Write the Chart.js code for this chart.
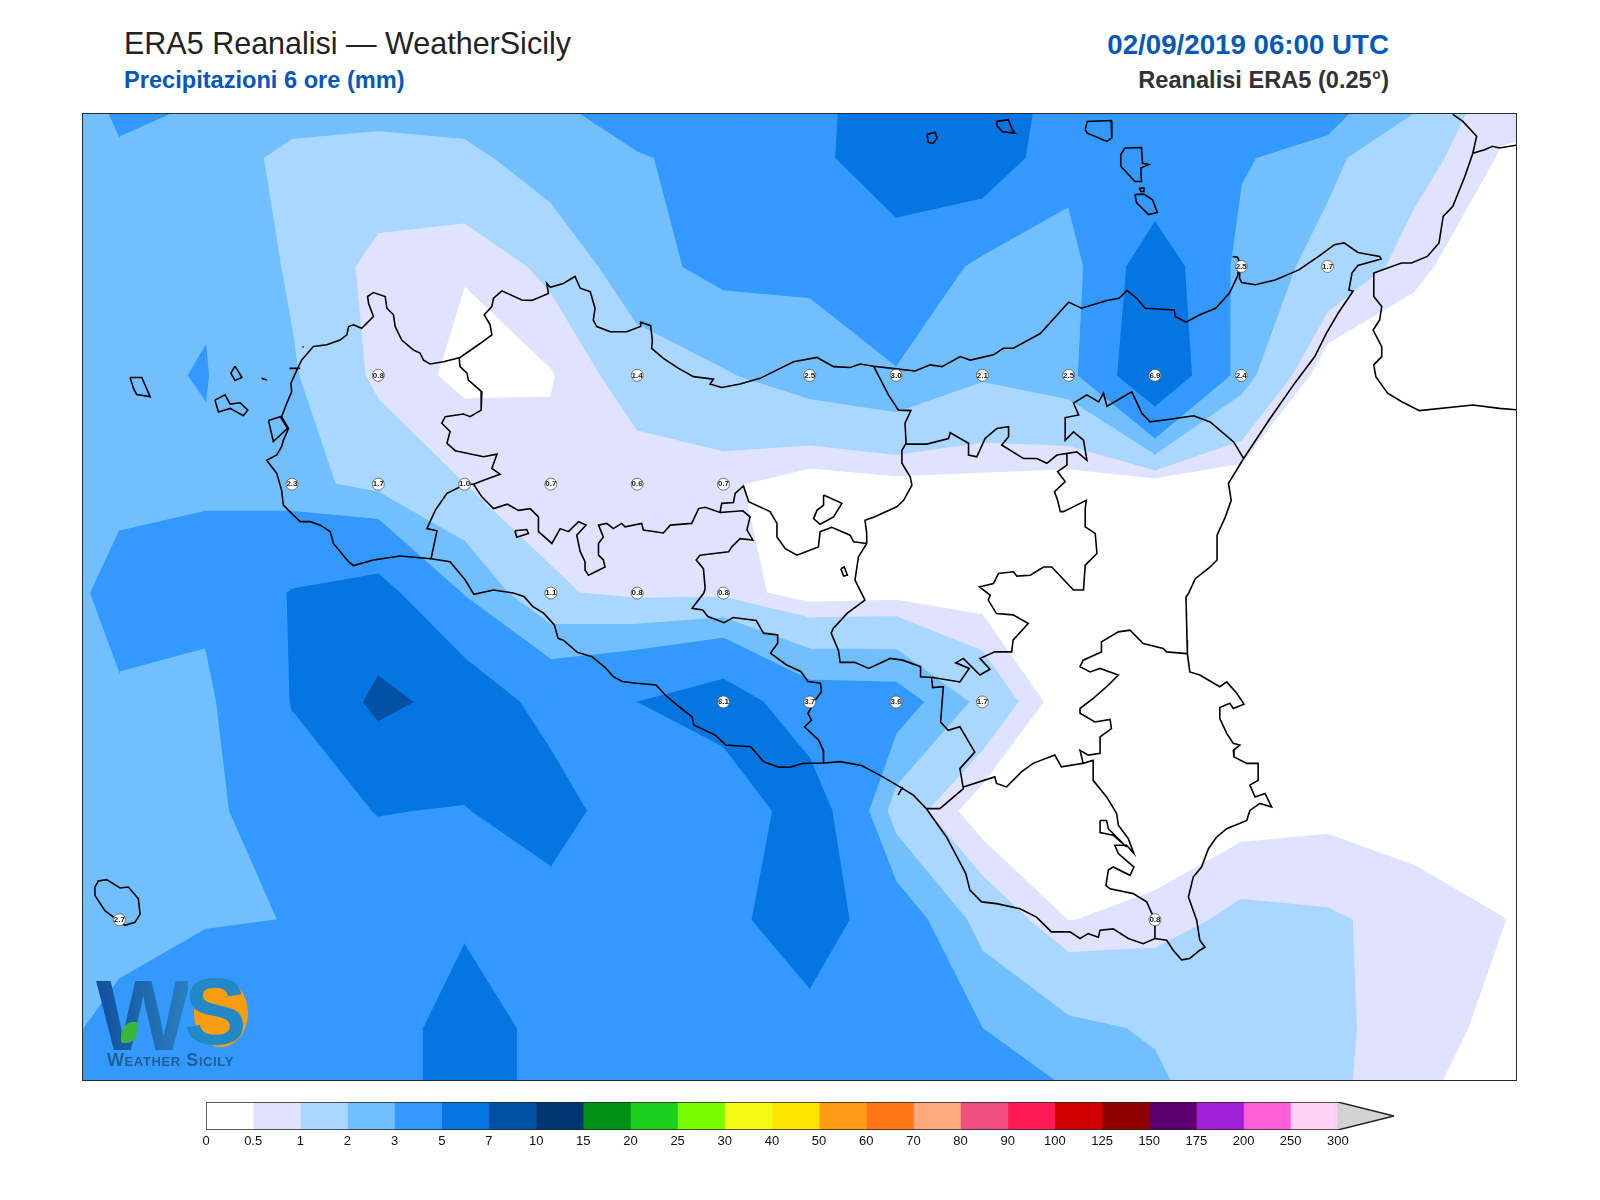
<!DOCTYPE html>
<html>
<head>
<meta charset="utf-8">
<title>ERA5 Reanalisi - WeatherSicily</title>
<script src="https://cdn.jsdelivr.net/npm/chart.js@4"></script>
<style>
  body { margin: 0; background: #fff; width: 1600px; height: 1200px; position: relative; overflow: hidden; font-family: "Liberation Sans", Arial, sans-serif; }
  .txt { position: absolute; white-space: nowrap; line-height: 1; }
  #mapChart { position: absolute; left: 83px; top: 114px; outline: 1.5px solid #2b2b30; }
  #barChart { position: absolute; left: 176px; top: 1095px; }
  #logo { position: absolute; left: 0; top: 0; pointer-events: none; }
</style>
</head>
<body>
<div class="txt" style="left:124px;top:28px;font-size:30.5px;color:#222">ERA5 Reanalisi — WeatherSicily</div>
<div class="txt" style="left:124px;top:69px;font-size:23.6px;font-weight:bold;color:#0558b8">Precipitazioni 6 ore (mm)</div>
<div class="txt" style="right:211px;top:31px;font-size:27.7px;font-weight:bold;color:#0558b8">02/09/2019 06:00 UTC</div>
<div class="txt" style="right:211px;top:69px;font-size:23.6px;font-weight:bold;color:#333">Reanalisi ERA5 (0.25°)</div>
<canvas id="mapChart" width="1433" height="966"></canvas>
<canvas id="barChart" width="1250" height="60"></canvas>
<div id="logo">
  <div style="position:absolute;left:194px;top:979px;width:54px;height:68px;border-radius:50%;background:#f99d10"></div>
  <div class="txt" style="left:96px;top:965px;font-size:100px;font-weight:bold;letter-spacing:-2px;background:linear-gradient(90deg,#124f9b,#2a7fc0);-webkit-background-clip:text;background-clip:text;color:transparent">W</div>
  <div class="txt" style="left:184px;top:965px;font-size:94px;font-weight:bold;color:#2388c6">S</div>
  <div style="position:absolute;left:121px;top:1022px;width:17px;height:21px;border-radius:70% 10% 70% 10%;background:#3db53a"></div>
  <div class="txt" style="left:107px;top:1051px;font-size:18px;font-weight:bold;font-variant:small-caps;color:#1f5f95;letter-spacing:.6px">Weather Sicily</div>
</div>
<script>
// grid of the reanalysis, 0.25 degrees
const lons = [11.75,12,12.25,12.5,12.75,13,13.25,13.5,13.75,14,14.25,14.5,14.75,15,15.25,15.5,15.75,16,16.25];
const lats = [38.75,38.5,38.25,38,37.75,37.5,37.25,37,36.75,36.5,36.25];
const precip = [
  [2.1,3.8,3.57,2.7,2.88,3.4,3.3,4.5,4.5,4.4,6,6.4,4.4,4,4,6,3,.9,.9],
  [2.4,2.8,2.3,1.85,1.71,1.7,2.58,2.9,3.4,4.74,5.6,6.4,3.57,3.1,3.16,2.2,1.3,.45,.3],
  [2.6,2.7,2.92,1.86,.68,.53,1.17,2.66,3.3,3.2,4.5,2.6,2.3,6.3,2.5,1.7,.65,0,0],
  [2.7,2.88,3.03,2.1,.8,.36,.45,1.4,1.9,2.5,2.85,2.1,2.5,6.9,2.4,0,0,0,0],
  [2.5,2.62,2.9,2.3,1.7,1,.7,.6,.6,.15,.3,.3,.17,.1,.05,0,0,0,0],
  [2,3.5,3.3,5.1,5.7,2.9,1.1,.8,.8,.2,.28,.2,.1,0,0,0,0,0,0],
  [2.6,2.8,2.7,5.05,7.4,6.4,4.2,4.98,6.1,3.7,3.6,1.7,0,0,0,0,0,0,0],
  [2.4,2.3,2.5,4.3,5.05,4.91,6,3.56,3.4,6.2,1.5,.1,0,0,.22,.34,.2,0,0],
  [2.4,2.7,2.95,3.01,4,4.7,4,4,4.5,6,3.8,1.6,.48,.68,1.18,1.08,.8,.52,.2],
  [2.64,3.25,3.5,3.5,3.9,6,4.33,4,4,4.4,4,3,2.2,1.9,1.5,1.15,.7,.38,.1],
  [2.9,3.3,3.4,3.5,3.9,6,4.33,4,4,4,4.2,4.5,3.6,2.4,1.6,1.15,.5,.1,0]
];

// colour scale
const levelLabels = ['0','0.5','1','2','3','5','7','10','15','20','25','30','40','50','60','70','80','90','100','125','150','175','200','250','300'];
const levelColors = ['#ffffff','#e0e3ff','#a9d7ff','#72bfff','#3399ff','#0575e2','#0050a6','#003672','#009114','#1ccf1c','#7cfc00','#f5fa14','#ffe600','#ff9c13','#ff7518','#ffa87d','#f04f80','#ff1a55','#d00000','#8f0000','#5c0070','#9f20d6','#ff60d6','#ffd2f5'];
const overColor = '#d3d3d3';

// stations with printed value
const stationLon = [15.25,15.5,12.75,13.5,14,14.25,14.5,14.75,15,15.25,12.5,12.75,13,13.25,13.5,13.75,13.25,13.5,13.75,13.75,14,14.25,14.5,12,15];
const stationLat = [38.25,38.25,38,38,38,38,38,38,38,38,37.75,37.75,37.75,37.75,37.75,37.75,37.5,37.5,37.5,37.25,37.25,37.25,37.25,36.75,36.75];
const stationVal = ['2.5','1.7','0.8','1.4','2.5','3.0','2.1','2.5','6.9','2.4','2.3','1.7','1.0','0.7','0.6','0.7','1.1','0.8','0.8','6.1','3.7','3.6','1.7','2.7','0.8'];

// outlines, lon,lat pairs
const coastSicily = [13.002,37.530,12.958,37.572,12.903,37.579,12.813,37.585,12.736,37.576,12.678,37.563,12.664,37.572,12.620,37.614,12.611,37.641,12.582,37.656,12.553,37.664,12.524,37.664,12.504,37.679,12.475,37.702,12.470,37.736,12.456,37.775,12.437,37.794,12.427,37.805,12.456,37.817,12.470,37.836,12.475,37.851,12.490,37.878,12.470,37.905,12.485,37.936,12.499,37.962,12.497,37.982,12.514,38.012,12.528,38.035,12.562,38.066,12.601,38.070,12.639,38.081,12.659,38.093,12.664,38.112,12.678,38.116,12.702,38.108,12.736,38.135,12.722,38.165,12.719,38.181,12.736,38.190,12.770,38.181,12.775,38.154,12.794,38.139,12.799,38.112,12.818,38.081,12.852,38.058,12.871,38.051,12.881,38.035,12.900,38.026,12.939,38.031,12.987,38.041,13.045,38.073,13.079,38.093,13.074,38.116,13.057,38.139,13.079,38.158,13.084,38.177,13.108,38.194,13.166,38.173,13.195,38.172,13.243,38.188,13.238,38.211,13.248,38.202,13.286,38.211,13.320,38.227,13.335,38.200,13.364,38.192,13.378,38.154,13.373,38.127,13.383,38.112,13.422,38.100,13.470,38.100,13.509,38.112,13.510,38.122,13.539,38.114,13.544,38.081,13.542,38.062,13.576,38.039,13.620,38.016,13.663,37.997,13.721,37.991,13.711,37.980,13.745,37.972,13.798,37.980,13.856,37.993,13.953,38.031,14.021,38.041,14.069,38.020,14.117,38.018,14.146,38.026,14.185,38.021,14.238,38.016,14.305,38.010,14.349,38.024,14.383,38.020,14.436,38.043,14.465,38.035,14.532,38.047,14.561,38.062,14.590,38.062,14.624,38.077,14.668,38.096,14.750,38.168,14.787,38.154,14.861,38.172,14.896,38.177,14.919,38.195,14.947,38.177,14.972,38.154,15.056,38.150,15.059,38.135,15.090,38.122,15.130,38.139,15.176,38.154,15.216,38.189,15.239,38.227,15.247,38.258,15.239,38.271,15.225,38.273,15.239,38.271,15.247,38.258,15.245,38.223,15.251,38.213,15.291,38.208,15.348,38.219,15.417,38.242,15.474,38.273,15.520,38.300,15.548,38.304,15.588,38.282,15.651,38.273,15.655,38.267,15.588,38.252,15.571,38.235,15.562,38.196,15.574,38.193,15.531,38.143,15.497,38.097,15.463,38.043,15.405,37.982,15.331,37.898,15.257,37.809,15.213,37.752,15.221,37.713,15.204,37.675,15.180,37.633,15.180,37.576,15.160,37.560,15.117,37.533,15.097,37.499,15.090,37.491,15.093,37.392,15.094,37.361,15.101,37.319,15.130,37.312,15.188,37.285,15.208,37.296,15.237,37.270,15.258,37.245,15.227,37.235,15.217,37.247,15.188,37.237,15.188,37.212,15.208,37.178,15.227,37.155,15.246,37.151,15.227,37.139,15.229,37.124,15.266,37.109,15.299,37.109,15.299,37.070,15.275,37.059,15.290,37.032,15.319,37.040,15.338,37.009,15.304,37.017,15.275,37.001,15.266,36.978,15.208,36.959,15.179,36.940,15.155,36.913,15.135,36.871,15.111,36.848,15.097,36.802,15.121,36.749,15.130,36.703,15.145,36.687,15.130,36.680,15.101,36.661,15.077,36.658,15.053,36.680,15.034,36.703,15.000,36.707,14.966,36.695,14.923,36.707,14.879,36.729,14.841,36.726,14.836,36.710,14.807,36.718,14.783,36.707,14.754,36.722,14.700,36.722,14.657,36.756,14.609,36.775,14.541,36.787,14.498,36.791,14.464,36.818,14.452,36.856,14.427,36.894,14.396,36.940,14.338,37.005,14.300,37.036,14.261,37.055,14.203,37.082,14.150,37.104,14.088,37.113,14.042,37.110,13.979,37.109,13.943,37.100,13.907,37.101,13.866,37.113,13.829,37.147,13.757,37.151,13.726,37.174,13.664,37.197,13.659,37.216,13.622,37.239,13.581,37.266,13.555,37.289,13.498,37.293,13.457,37.297,13.431,37.308,13.410,37.327,13.369,37.354,13.327,37.364,13.286,37.392,13.271,37.396,13.260,37.427,13.229,37.454,13.198,37.469,13.172,37.492,13.141,37.500,13.084,37.507,13.027,37.497,13.002,37.530];
const borderTrapani = [12.984,38.041,12.987,38.020,13.007,38.005,13.011,37.989,13.050,37.962,13.048,37.920,13.016,37.905,12.997,37.911,12.944,37.905,12.934,37.890,12.958,37.871,12.949,37.844,12.973,37.827,13.055,37.813,13.094,37.819,13.079,37.786,13.103,37.773,13.055,37.759,13.026,37.750,13.002,37.750,12.949,37.729,12.915,37.690,12.891,37.648,12.920,37.643,12.903,37.579];
const borderPalermo = [13.026,37.750,13.050,37.721,13.084,37.694,13.124,37.704,13.156,37.690,13.190,37.694,13.214,37.675,13.214,37.641,13.253,37.614,13.277,37.648,13.301,37.641,13.330,37.664,13.352,37.656,13.325,37.633,13.335,37.595,13.349,37.572,13.349,37.553,13.359,37.541,13.407,37.560,13.402,37.576,13.388,37.587,13.388,37.614,13.402,37.629,13.388,37.656,13.412,37.660,13.431,37.648,13.455,37.660,13.465,37.652,13.513,37.660,13.518,37.645,13.576,37.638,13.596,37.656,13.658,37.660,13.678,37.694,13.697,37.697,13.740,37.685,13.745,37.706,13.779,37.708,13.784,37.729,13.808,37.746,13.823,37.710,13.885,37.687,13.905,37.660,13.905,37.629,13.929,37.602,13.963,37.587,14.025,37.606,14.030,37.641,14.064,37.651,14.117,37.633,14.127,37.618,14.165,37.614];
const borderAgrigento = [13.740,37.685,13.806,37.689,13.827,37.675,13.818,37.645,13.835,37.622,13.798,37.625,13.774,37.606,13.765,37.595,13.682,37.587,13.671,37.576,13.692,37.556,13.697,37.510,13.693,37.500,13.659,37.465,13.690,37.461,13.705,37.446,13.752,37.432,13.778,37.444,13.845,37.437,13.866,37.408,13.907,37.404,13.907,37.385,13.886,37.362,13.933,37.335,13.974,37.320,13.995,37.297,14.031,37.293,14.034,37.274,14.016,37.254,13.995,37.224,14.005,37.208,13.985,37.193,14.026,37.162,14.039,37.139,14.040,37.109];
const borderEnna = [14.185,38.021,14.228,37.955,14.257,37.920,14.293,37.919,14.276,37.890,14.279,37.844,14.267,37.828,14.267,37.798,14.291,37.767,14.296,37.748,14.272,37.713,14.252,37.698,14.185,37.674,14.160,37.667,14.165,37.637,14.165,37.614,14.141,37.583,14.131,37.530,14.160,37.484,14.109,37.454,14.068,37.419,14.062,37.408,14.083,37.369,14.088,37.341,14.130,37.341,14.171,37.327,14.233,37.350,14.269,37.346,14.321,37.331,14.321,37.308,14.357,37.306,14.435,37.296,14.462,37.327,14.423,37.340,14.445,37.350,14.493,37.312,14.522,37.325,14.493,37.350,14.536,37.365,14.585,37.365,14.589,37.392,14.633,37.430,14.589,37.450,14.541,37.453,14.517,37.484,14.523,37.495,14.492,37.514,14.532,37.522,14.547,37.545,14.590,37.549,14.600,37.539,14.639,37.541,14.677,37.560,14.701,37.560,14.764,37.507,14.793,37.507,14.798,37.564,14.832,37.591,14.827,37.637,14.798,37.652,14.798,37.694,14.801,37.713,14.735,37.687,14.726,37.687,14.718,37.713,14.709,37.733,14.740,37.756,14.718,37.779,14.745,37.794,14.745,37.821];
const borderMessina = [14.279,37.842,14.339,37.842,14.402,37.855,14.407,37.868,14.460,37.844,14.460,37.817,14.484,37.813,14.508,37.855,14.542,37.878,14.576,37.882,14.576,37.859,14.556,37.840,14.619,37.809,14.658,37.809,14.687,37.798,14.716,37.817,14.774,37.824,14.803,37.805,14.793,37.851,14.764,37.870,14.740,37.851,14.740,37.903,14.779,37.909,14.764,37.936,14.803,37.955,14.837,37.939,14.851,37.959,14.861,37.929,14.933,37.962,14.962,37.913,14.986,37.893,15.044,37.899,15.112,37.907,15.160,37.893,15.228,37.847,15.257,37.809];
const borderCaltanissetta = [14.338,37.005,14.377,37.005,14.445,37.051,14.435,37.097,14.478,37.135,14.435,37.193,14.401,37.185,14.379,37.204,14.387,37.285,14.356,37.283,14.353,37.306];
const borderCatania = [14.445,37.055,14.536,37.078,14.541,37.063,14.570,37.055,14.614,37.090,14.647,37.109,14.710,37.128,14.729,37.101,14.792,37.109,14.783,37.139,14.807,37.128,14.841,37.132,14.841,37.170,14.874,37.189,14.870,37.210,14.826,37.204,14.783,37.224,14.783,37.235,14.821,37.258,14.860,37.285,14.894,37.312,14.841,37.327,14.812,37.319,14.783,37.331,14.792,37.346,14.845,37.365,14.845,37.388,14.894,37.411,14.928,37.415,14.966,37.384,15.024,37.373,15.034,37.365,15.092,37.361];
const borderRagusa = [14.792,37.109,14.821,37.116,14.821,37.070,14.860,37.032,14.889,36.994,14.894,36.967,14.923,36.936,14.939,36.902,14.918,36.921,14.884,36.921,14.894,36.902,14.939,36.871,14.928,36.852,14.879,36.871,14.865,36.864,14.858,36.829,14.870,36.821,14.937,36.810,14.976,36.791,15.000,36.749,15.000,36.707];
const shapeRagusa = [14.841,36.978,14.860,36.978,14.865,36.959,14.918,36.917,14.879,36.944,14.841,36.950,14.841,36.978];
const tickGela = [14.269,37.055,14.256,37.036];
const blobMadonie = [14.040,37.725,14.093,37.706,14.069,37.675,14.030,37.658,14.011,37.671,14.021,37.690,14.040,37.702,14.040,37.725];
const lakePozzillo = [14.090,37.556,14.100,37.560,14.109,37.541,14.098,37.539,14.090,37.556];
const lakeWest = [13.146,37.643,13.180,37.646,13.185,37.637,13.151,37.628,13.146,37.643];
const marettimo = [12.031,37.995,12.065,37.995,12.089,37.951,12.050,37.956,12.041,37.970,12.031,37.995];
const levanzo = [12.335,38.021,12.355,37.995,12.335,37.988,12.323,38.005,12.335,38.021];
const favignana = [12.277,37.943,12.306,37.955,12.321,37.934,12.350,37.937,12.372,37.920,12.359,37.907,12.321,37.924,12.287,37.916,12.277,37.943];
const stagnone = [12.432,37.896,12.466,37.905,12.487,37.878,12.446,37.848,12.432,37.896];
const trapaniSpit = [12.493,38.016,12.524,38.016];
const specks = [12.412,37.993,12.427,37.989];
const speckOff = [12.531,38.066,12.533,38.064];
const alicudi = [14.340,38.553,14.363,38.558,14.369,38.545,14.358,38.533,14.343,38.535,14.340,38.553];
const filicudi = [14.541,38.583,14.575,38.587,14.587,38.564,14.595,38.556,14.558,38.559,14.543,38.572,14.541,38.583];
const salina = [14.798,38.564,14.804,38.583,14.873,38.585,14.875,38.545,14.861,38.537,14.804,38.556,14.798,38.564];
const lipari = [14.913,38.522,14.961,38.523,14.964,38.487,14.982,38.484,14.959,38.476,14.961,38.445,14.942,38.445,14.901,38.480,14.901,38.507,14.913,38.522];
const vulcano = [14.942,38.415,14.968,38.416,14.993,38.403,15.007,38.374,14.982,38.369,14.947,38.396,14.942,38.415];
const vulcanello = [14.955,38.430,14.968,38.430,14.968,38.422,14.959,38.422,14.955,38.430];
const calabria = [15.863,38.599,15.892,38.583,15.932,38.549,15.921,38.510,15.898,38.457,15.863,38.388,15.835,38.365,15.823,38.304,15.789,38.273,15.743,38.258,15.714,38.258,15.634,38.235,15.634,38.181,15.657,38.158,15.651,38.127,15.632,38.104,15.657,38.066,15.657,38.043,15.634,38.024,15.640,37.997,15.674,37.959,15.714,37.940,15.766,37.919,15.921,37.932,15.998,37.924,16.06,37.92];
const calabriaBranch = [15.921,38.510,15.955,38.518,15.978,38.526,15.998,38.522,16.06,38.53];
const pantelleria = [11.929,36.825,11.939,36.839,11.963,36.842,12.002,36.823,12.026,36.825,12.055,36.798,12.060,36.763,12.045,36.744,12.016,36.737,11.983,36.756,11.958,36.771,11.929,36.806,11.929,36.825];

const outlines = [coastSicily,borderTrapani,borderPalermo,borderAgrigento,borderEnna,borderMessina,borderCaltanissetta,borderCatania,borderRagusa,shapeRagusa,tickGela,blobMadonie,lakePozzillo,lakeWest,marettimo,levanzo,favignana,stagnone,trapaniSpit,specks,speckOff,alicudi,filicudi,salina,lipari,vulcano,vulcanello,calabria,calabriaBranch,pantelleria];

// parts of every grid cell at or above a level, split by gaps
function cellsAbove(level) {
  const pts = [];
  for (let j = 0; j < lats.length - 1; j++) {
    for (let i = 0; i < lons.length - 1; i++) {
      const c = [[i, j], [i + 1, j], [i + 1, j + 1], [i, j + 1]];
      const poly = [];
      c.forEach((p, k) => {
        const q = c[(k + 1) % 4];
        const a = precip[p[1]][p[0]], b = precip[q[1]][q[0]];
        if (a >= level) poly.push({ x: lons[p[0]], y: lats[p[1]] });
        if ((a >= level) !== (b >= level)) {
          const t = (level - a) / (b - a);
          poly.push({
            x: lons[p[0]] + t * (lons[q[0]] - lons[p[0]]),
            y: lats[p[1]] + t * (lats[q[1]] - lats[p[1]])
          });
        }
      });
      if (poly.length > 2) {
        pts.push(...poly, poly[0], { x: null, y: null });
      }
    }
  }
  return pts;
}

function outlinePoints() {
  const pts = [];
  outlines.forEach(o => {
    for (let i = 0; i < o.length; i += 2) pts.push({ x: o[i], y: o[i + 1] });
    pts.push({ x: null, y: null });
  });
  return pts;
}

const mapDatasets = [];
for (let i = 1; i <= 7; i++) {
  mapDatasets.push({
    data: cellsAbove(parseFloat(levelLabels[i])),
    showLine: true, fill: 'shape', tension: 0,
    backgroundColor: levelColors[i], borderColor: levelColors[i], borderWidth: 1.2,
    pointRadius: 0, order: 20 - i
  });
}
mapDatasets.push({
  data: outlinePoints(), showLine: true, fill: false, tension: 0,
  borderColor: '#000', borderWidth: 1.6, pointRadius: 0, order: 2
});
mapDatasets.push({
  data: stationLon.map((x, i) => ({ x, y: stationLat[i] })),
  showLine: false, pointRadius: 6, pointBackgroundColor: '#fff',
  pointBorderColor: '#555', pointBorderWidth: 0.8, order: 1
});

const stationText = {
  id: 'stationText',
  afterDatasetsDraw(chart) {
    const { ctx, scales } = chart;
    ctx.save();
    ctx.font = 'bold 8px "Liberation Sans"';
    ctx.fillStyle = '#222';
    ctx.textAlign = 'center';
    ctx.textBaseline = 'middle';
    stationVal.forEach((v, i) => {
      ctx.fillText(v, scales.x.getPixelForValue(stationLon[i]), scales.y.getPixelForValue(stationLat[i]));
    });
    ctx.restore();
  }
};

new Chart(document.getElementById('mapChart'), {
  type: 'scatter',
  data: { datasets: mapDatasets },
  options: {
    responsive: false, animation: false, devicePixelRatio: 1,
    layout: { padding: 0, autoPadding: false },
    plugins: { legend: { display: false }, tooltip: { enabled: false } },
    scales: {
      x: { type: 'linear', min: 11.8946, max: 16.046, display: false },
      y: { type: 'linear', min: 36.382, max: 38.6, display: false }
    }
  },
  plugins: [stationText]
});

// colour bar
const barDatasets = levelColors.map((col, i) => ({
  data: [{ x: i, y: 0 }, { x: i + 1, y: 0 }, { x: i + 1, y: 1 }, { x: i, y: 1 }, { x: i, y: 0 }],
  showLine: true, fill: 'shape', tension: 0,
  backgroundColor: col, borderColor: col, borderWidth: 0.5, pointRadius: 0, order: 5
}));
const n = levelColors.length;
const tipX = 25.19;
barDatasets.push({
  data: [{ x: n, y: 0 }, { x: tipX, y: 0.5 }, { x: n, y: 1 }, { x: n, y: 0 }],
  showLine: true, fill: 'shape', tension: 0,
  backgroundColor: overColor, borderColor: overColor, borderWidth: 0.5, pointRadius: 0, order: 4
});
barDatasets.push({
  data: [{ x: n, y: 1 }, { x: 0, y: 1 }, { x: 0, y: 0 }, { x: n, y: 0 }, { x: tipX, y: 0.5 }, { x: n, y: 1 }],
  showLine: true, fill: false, tension: 0,
  borderColor: '#222', borderWidth: 1.4, pointRadius: 0, order: 1
});

new Chart(document.getElementById('barChart'), {
  type: 'scatter',
  data: { datasets: barDatasets },
  options: {
    responsive: false, animation: false, devicePixelRatio: 1,
    layout: { padding: { left: 30, right: 32, top: 7, bottom: 0 }, autoPadding: false },
    plugins: { legend: { display: false }, tooltip: { enabled: false } },
    scales: {
      x: {
        type: 'linear', min: 0, max: tipX,
        grid: { display: false, drawTicks: false }, border: { display: false },
        afterBuildTicks(s) { s.ticks = levelLabels.map((_, i) => ({ value: i })); },
        afterFit(s) { s.height = 25; s.paddingLeft = 0; s.paddingRight = 0; },
        ticks: {
          autoSkip: false, maxRotation: 0, padding: 4, color: '#111',
          font: { family: '"Liberation Sans"', size: 13 },
          callback: v => levelLabels[v]
        }
      },
      y: { type: 'linear', min: 0, max: 1, display: false }
    }
  }
});
</script>
</body>
</html>
